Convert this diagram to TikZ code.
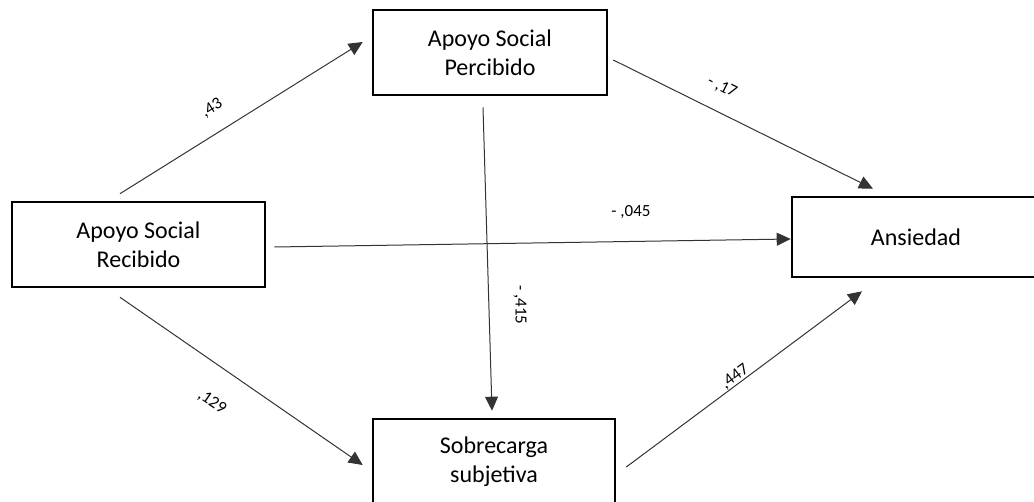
\documentclass[tikz,border=0pt]{standalone}
\usepackage{fontspec}
\setmainfont{Carlito}
\usetikzlibrary{arrows.meta,calc}
\begin{document}
\begin{tikzpicture}[x=1pt,y=-1pt,
  box/.style={draw=black,line width=2.6pt,align=center,inner sep=0pt,
    font=\fontsize{24}{29}\selectfont},
  conn/.style={draw=black!80,line width=1pt,-{Triangle[length=14pt,width=13pt]}},
  lbl/.style={font=\fontsize{17}{20}\selectfont,inner sep=0pt}]
\useasboundingbox (0,0) rectangle (1034,502);
\node[box,minimum width=253pt,minimum height=85pt] (rec) at (138.5,244.5) {Apoyo Social\\Recibido};
\node[box,minimum width=234pt,minimum height=85pt] (per) at (490,52.5) {Apoyo Social\\Percibido};
\node[box,minimum width=248pt,minimum height=80pt] (ans) at (916,237) {Ansiedad};
\node[box,minimum width=242pt,minimum height=85pt] (sob) at (494,461.5) {Sobrecarga\\subjetiva};
% connectors
\draw[conn] ($(rec.north)+(-18.5,-7)$) -- ($(per.west)+(-9,-10.5)$);
\draw[conn] ($(per.east)+(5,7.5)$) -- ($(ans.north)+(-43,-7)$);
\draw[conn] ($(rec.east)+(8,2.5)$) -- ($(ans.west)+(0,2)$);
\draw[conn] ($(per.south)+(-7,11)$) -- ($(sob.north)+(-2,-7)$);
\draw[conn] ($(rec.south)+(-18.5,9)$) -- ($(sob.west)+(-9,3.5)$);
\draw[conn] ($(sob.east)+(10,5.5)$) -- ($(ans.south)+(-54,13)$);
% labels
\node[lbl,rotate=32] (l1) at (212,108) {,43};
\node[lbl,rotate=-26.5] (l2) at (722,87) {- ,17};
\node[lbl] (l3) at (631,212) {- ,045};
\node[lbl,rotate=-90] (l4) at (520,305) {- ,415};
\node[lbl,rotate=-34.7] (l5) at (212,402) {,129};
\node[lbl,rotate=36.7] (l6) at (735,377) {,447};
\end{tikzpicture}
\end{document}
